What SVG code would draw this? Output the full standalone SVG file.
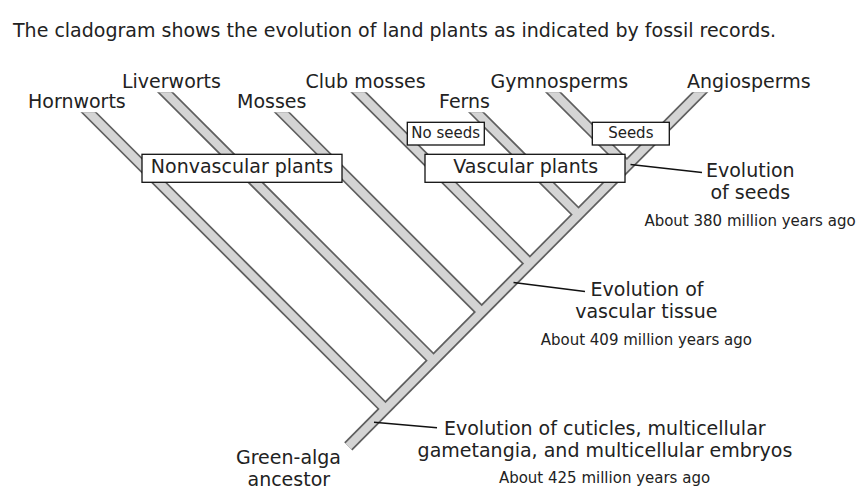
<svg xmlns="http://www.w3.org/2000/svg" width="866" height="500" viewBox="0 0 866 500">
<style>
  text { font-family: "DejaVu Sans", Verdana, sans-serif; fill: #222; }
  .lbl { font-size: 19px; }
  .sm { font-size: 15px; }
  .mid { text-anchor: middle; }
  .edge { stroke: #5e5e5e; stroke-width: 11.6; stroke-linecap: butt; fill: none; }
  .core { stroke: #d4d4d4; stroke-width: 8.2; stroke-linecap: butt; fill: none; }
  .box { fill: #fff; stroke: #111; stroke-width: 1.3; }
  .ptr { stroke: #111; stroke-width: 1.5; fill: none; }
</style>
<defs>
  <clipPath id="topcut">
    <rect x="0" y="112.3" width="866" height="400"/>
    <rect x="148" y="92.3" width="52" height="22"/>
    <rect x="341" y="92.3" width="52" height="22"/>
    <rect x="536" y="92.3" width="52" height="22"/>
    <rect x="664" y="92.3" width="52" height="22"/>
  </clipPath>
  <g id="bars">
    <line x1="348.3" y1="446.3" x2="712.2" y2="80"/>
    <line x1="76.5" y1="100" x2="384.75" y2="408.25"/>
    <line x1="153" y1="80" x2="433" y2="360"/>
    <line x1="269.7" y1="100" x2="481.35" y2="311.65"/>
    <line x1="346.4" y1="80" x2="529.7" y2="263.3"/>
    <line x1="464" y1="100" x2="578.5" y2="214.5"/>
    <line x1="541" y1="80" x2="627" y2="166"/>
  </g>
</defs>

<text class="lbl" x="13" y="36.5">The cladogram shows the evolution of land plants as indicated by fossil records.</text>

<g id="connectors" clip-path="url(#topcut)">
  <use href="#bars" class="edge"/>
  <use href="#bars" class="core"/>
</g>

<g id="pointers">
  <line class="ptr" x1="630.5" y1="164.5" x2="702" y2="172.5"/>
  <line class="ptr" x1="513.5" y1="282.5" x2="585" y2="291.5"/>
  <line class="ptr" x1="374" y1="422.3" x2="437" y2="427.7"/>
</g>

<g id="hornworts"><text class="lbl" x="28" y="108.3">Hornworts</text></g>
<g id="liverworts"><text class="lbl" x="122" y="88.3">Liverworts</text></g>
<g id="mosses"><text class="lbl" x="237" y="108.3">Mosses</text></g>
<g id="club-mosses"><text class="lbl" x="305.5" y="88.3">Club mosses</text></g>
<g id="ferns"><text class="lbl" x="439" y="108.3">Ferns</text></g>
<g id="gymnosperms"><text class="lbl" x="490.5" y="88.3">Gymnosperms</text></g>
<g id="angiosperms"><text class="lbl" x="687" y="88.3">Angiosperms</text></g>

<g id="nonvascular-box">
  <rect class="box" x="142" y="154.3" width="200" height="28"/>
  <text class="lbl mid" x="242" y="173.3">Nonvascular plants</text>
</g>
<g id="vascular-box">
  <rect class="box" x="425" y="154.3" width="200" height="28"/>
  <text class="lbl mid" x="525.7" y="173.3">Vascular plants</text>
</g>
<g id="noseeds-box">
  <rect class="box" x="407.3" y="122.3" width="77" height="22.7"/>
  <text class="sm mid" x="445.7" y="137.5">No seeds</text>
</g>
<g id="seeds-box">
  <rect class="box" x="592.3" y="122.3" width="77" height="22.7"/>
  <text class="sm mid" x="630.8" y="137.5">Seeds</text>
</g>

<g id="evolution-seeds">
  <text class="lbl mid" x="750.3" y="176.7">Evolution</text>
  <text class="lbl mid" x="750.3" y="199.3">of seeds</text>
  <text class="sm mid" x="750" y="226">About 380 million years ago</text>
</g>
<g id="evolution-vascular">
  <text class="lbl mid" x="647" y="295.7">Evolution of</text>
  <text class="lbl mid" x="646.3" y="318.3">vascular tissue</text>
  <text class="sm mid" x="646.3" y="345">About 409 million years ago</text>
</g>
<g id="evolution-cuticles">
  <text class="lbl mid" x="604.8" y="435">Evolution of cuticles, multicellular</text>
  <text class="lbl mid" x="605" y="456.7">gametangia, and multicellular embryos</text>
  <text class="sm mid" x="604.5" y="483.3">About 425 million years ago</text>
</g>
<g id="green-alga">
  <text class="lbl mid" x="288.5" y="464">Green-alga</text>
  <text class="lbl mid" x="288.8" y="486">ancestor</text>
</g>
</svg>
